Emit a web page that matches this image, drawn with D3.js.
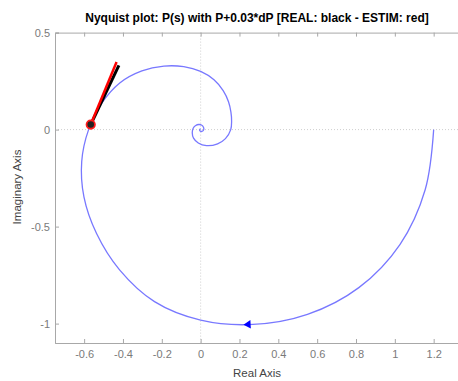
<!DOCTYPE html>
<html>
<head>
<meta charset="utf-8">
<script src="https://cdn.jsdelivr.net/npm/d3@7"></script>
<style>
  body { margin: 0; background: #fff; }
  svg { display: block; font-family: "Liberation Sans", Arial, sans-serif; }
</style>
</head>
<body>
<svg id="chart" width="458" height="381"></svg>
<script>
// Nyquist curve of P(s) (real / imaginary parts)
let curveRe = [1.2, 1.1562, 1.0262, 0.8146, 0.55, 0.2692, 0, -0.2376, -0.4175, -0.536,
    -0.601, -0.6124, -0.577, -0.509, -0.4166, -0.3026, -0.189, -0.087, 0, 0.0688,
    0.116, 0.1435, 0.1559, 0.1594, 0.155, 0.1278, 0.0873, 0.0301, -0.0122, -0.0366,
    -0.0432, -0.0384, -0.0253, -0.0096, 0.0042, 0.0146, 0.016, 0.0085, 0, -0.0046,
    -0.005, -0.0027, 0];
let curveIm = [0, -0.3098, -0.5925, -0.8146, -0.9526, -1.0045, -0.982, -0.8867, -0.7231, -0.536,
    -0.347, -0.1641, 0, 0.1364, 0.2405, 0.3026, 0.3274, 0.3245, 0.300, 0.2569,
    0.2009, 0.1435, 0.09, 0.0427, 0, -0.0465, -0.0733, -0.0827, -0.0689, -0.0437,
    -0.0157, 0.0068, 0.0212, 0.0263, 0.0236, 0.0122, 0, -0.0085, -0.009, -0.0046,
    0, 0.0027, 0.003];

// direction arrow on the curve
let arrowPt = [0.245, -1.004];

// P+0.03*dP point and the two direction segments
let markPt = [-0.566, 0.026];
let realEnd = [-0.421, 0.331];   // black
let estimEnd = [-0.433, 0.348];  // red

let xTicks = [-0.6, -0.4, -0.2, 0, 0.2, 0.4, 0.6, 0.8, 1, 1.2];
let yTicks = [-1, -0.5, 0, 0.5];

let titleText = "Nyquist plot: P(s) with P+0.03*dP [REAL: black - ESTIM: red]";

function drawChart() {
    let svg = d3.select("#chart");
    let left = 55, right = 462.8, top = 32.6, bottom = 343;

    let x = d3.scaleLinear().domain([-0.75, 1.35]).range([left, right]);
    let y = d3.scaleLinear().domain([-1.1, 0.5]).range([bottom, top]);
    let fmt = d => String(+d.toFixed(1));

    // zero lines
    svg.append("line")
        .attr("x1", x(0)).attr("x2", x(0))
        .attr("y1", top).attr("y2", bottom)
        .attr("stroke", "#cfcfcf").attr("stroke-dasharray", "1,2");
    svg.append("line")
        .attr("x1", left).attr("x2", right)
        .attr("y1", y(0)).attr("y2", y(0))
        .attr("stroke", "#cfcfcf").attr("stroke-dasharray", "1,2");

    // axes (ticks pointing inside like matlab)
    let axisColor = "#a8a8a8";
    let labelColor = "#7a7a7a";
    let gx = svg.append("g").attr("transform", "translate(0," + bottom + ")")
        .call(d3.axisBottom(x).tickValues(xTicks).tickFormat(fmt).tickSize(-4).tickPadding(7));
    let gy = svg.append("g").attr("transform", "translate(" + left + ",0)")
        .call(d3.axisLeft(y).tickValues(yTicks).tickFormat(fmt).tickSize(-4).tickPadding(5));
    let gt = svg.append("g").attr("transform", "translate(0," + top + ")")
        .call(d3.axisTop(x).tickValues(xTicks).tickFormat("").tickSize(-4));
    let gr = svg.append("g").attr("transform", "translate(" + right + ",0)")
        .call(d3.axisRight(y).tickValues(yTicks).tickFormat("").tickSize(-4));
    [gx, gy, gt, gr].forEach(g => {
        g.select(".domain").attr("stroke", axisColor);
        g.selectAll(".tick line").attr("stroke", axisColor);
        g.selectAll(".tick text").attr("fill", labelColor)
            .style("font-size", "11px")
            .style("font-family", "'Liberation Sans', Arial, sans-serif");
    });

    // nyquist curve
    let pts = curveRe.map((r, i) => [r, curveIm[i]]);
    let line = d3.line()
        .x(d => x(d[0]))
        .y(d => y(d[1]))
        .curve(d3.curveCatmullRom.alpha(0.5));
    svg.append("path")
        .datum(pts)
        .attr("d", line)
        .attr("fill", "none")
        .attr("stroke", "#7878ff")
        .attr("stroke-width", 1.3);

    svg.append("path")
        .attr("d", d3.symbol().type(d3.symbolTriangle).size(30))
        .attr("transform", "translate(" + x(arrowPt[0]) + "," + y(arrowPt[1]) + ") rotate(-93)")
        .attr("fill", "#0000ff");

    // real (black) and estimated (red) segments
    svg.append("line")
        .attr("x1", x(markPt[0])).attr("y1", y(markPt[1]))
        .attr("x2", x(realEnd[0])).attr("y2", y(realEnd[1]))
        .attr("stroke", "#000").attr("stroke-width", 3);
    svg.append("line")
        .attr("x1", x(markPt[0])).attr("y1", y(markPt[1]))
        .attr("x2", x(estimEnd[0])).attr("y2", y(estimEnd[1]))
        .attr("stroke", "#ff0000").attr("stroke-width", 2.5);
    svg.append("circle")
        .attr("cx", x(markPt[0])).attr("cy", y(markPt[1]))
        .attr("r", 4.2)
        .attr("fill", "#222")
        .attr("stroke", "#ff1a1a").attr("stroke-width", 1.8);

    // texts
    svg.append("text")
        .attr("x", 257).attr("y", 22)
        .attr("text-anchor", "middle")
        .style("font-size", "12px").style("font-weight", "bold")
        .attr("fill", "#000")
        .text(titleText);
    svg.append("text")
        .attr("x", 257).attr("y", 377)
        .attr("text-anchor", "middle")
        .style("font-size", "11.5px")
        .attr("fill", "#444")
        .text("Real Axis");
    svg.append("text")
        .attr("transform", "translate(21,187) rotate(-90)")
        .attr("text-anchor", "middle")
        .style("font-size", "11.5px")
        .attr("fill", "#444")
        .text("Imaginary Axis");
}

drawChart();
</script>
</body>
</html>
